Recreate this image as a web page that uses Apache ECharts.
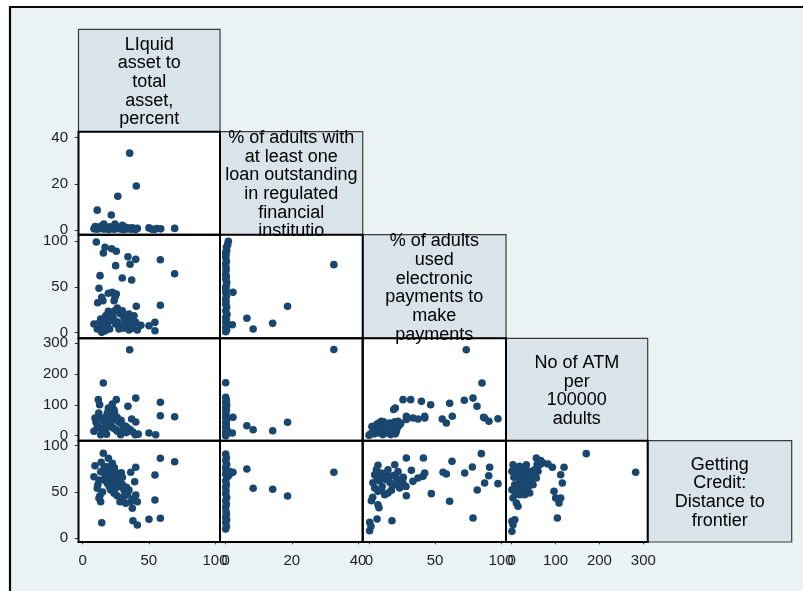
<!DOCTYPE html>
<html>
<head>
<meta charset="utf-8">
<script src="https://cdn.jsdelivr.net/npm/echarts@6/dist/echarts.min.js"></script>
<style>
  html, body { margin: 0; padding: 0; background: #ffffff; }
  #chart { width: 803px; height: 591px; }
</style>
</head>
<body>
<div id="chart"></div>
<script>
// Variable names shown on the diagonal of the scatter matrix
const variableLabels = [
  'LIquid\nasset to\ntotal\nasset,\npercent',
  '% of adults with\nat least one\nloan outstanding\nin regulated\nfinancial\ninstitutio',
  '% of adults\nused\nelectronic\npayments to\nmake\npayments',
  'No of ATM\nper\n100000\nadults',
  'Getting\nCredit:\nDistance to\nfrontier'
];

// Axis range and tick step of each variable
const axisRanges = [[0, 100], [0, 40], [0, 100], [0, 300], [0, 100]];
const tickSteps = [50, 20, 50, 100, 50];

// Panel data: [x, y] pairs
const loanByLiquid = [
  [35.5, 33.3], [40.5, 19.1], [26.5, 14.6], [11, 8.6], [21.6, 6.5],
  [16, 2.6], [24.4, 2.6], [30, 2], [8.5, 0.5], [9.5, 1.5], [11, 0.3], [12, 1.2], [13.6, 0.6],
  [14.5, 1.8], [16.1, 0.4], [17, 1.2], [18.6, 0.8], [19.5, 0.2], [20.5, 1.4], [21.2, 0.5],
  [22.5, 1.0], [23.7, 0.3], [25, 1.6], [26.2, 0.6], [27.5, 1.1], [28.7, 0.4], [30.2, 0.9],
  [31.2, 0.2], [32.5, 1.2], [33.7, 0.5], [35, 0.8], [36.3, 0.3], [37.5, 1.0], [38.8, 0.5],
  [40, 0.2], [41.3, 0.7], [50.1, 0.9], [52, 0.4], [53.9, 0.2], [56, 0.6], [59, 0.5], [69.5, 0.7]
];
const elecByLiquid = [
  [10.3, 98.9], [16.9, 93.1], [15.6, 86.9], [21.9, 91.6], [25.4, 88.8], [34.2, 82.9], [40.1, 80],
  [35.8, 74.6], [24.9, 73.1], [58.7, 79.6], [69.5, 64.3], [13.1, 62.2], [29.9, 59.7], [37, 57.5],
  [12.3, 48.4], [19.4, 43], [22.4, 44], [25.4, 42.2], [14.4, 38.6], [11.3, 32.7], [15.3, 34.9],
  [23.7, 34.9], [24.4, 38.6], [40.5, 28.8], [58.7, 29.9], [26.2, 26.9], [21.2, 22.2], [17.4, 18.5],
  [8.5, 9.5], [11, 4], [14.4, 0.4], [16.1, 13.1], [18.6, 9.5], [20.4, 4], [22.4, 13.1], [24.9, 9.5],
  [27.4, 4], [28.7, 20.4], [31.2, 14.9], [33.7, 11.3], [36.3, 7.6], [38.8, 18.5], [40.1, 11.3],
  [41.3, 2.9], [50.1, 7.6], [54.6, 11.3], [54.6, 2.2], [19.4, 23.3], [24.2, 24], [13.6, 14.9],
  [35, 20.4], [37.5, 15], [15, 6], [19, 15], [23, 18], [26, 12], [29, 8], [31, 5], [33, 18],
  [35, 3], [38, 5], [30, 24], [17, 2], [12, 10], [44, 8]
];
const atmByLiquid = [
  [35.5, 279], [15.6, 171], [11.8, 117], [12.8, 100.6], [25.4, 117], [22.4, 103], [19.4, 90],
  [40.1, 122], [34.2, 95.4], [58.7, 108.4], [58.7, 65], [69.5, 61.7], [37, 54.2], [40.1, 44.5],
  [50.1, 8.8], [55.2, 3.2], [9.3, 57.5], [8.5, 14.3], [11, 35.7], [13.6, 3.2], [16.1, 46.8],
  [17.4, 25], [19.9, 57.5], [21.2, 35.7], [22.4, 68.2], [24.9, 52], [26.2, 14.3], [28.7, 3.2],
  [28.7, 41.3], [32.5, 30.5], [36, 19.5], [39.8, 3.2], [12.1, 73.7], [14.9, 25], [18.6, 73.7],
  [23.7, 84.4], [10, 45], [20.5, 45], [26, 60], [30, 35], [14, 55], [17, 60], [20, 30], [23, 25],
  [25, 20], [27, 45], [30, 15], [33, 10], [15, 15], [18, 5], [11, 25], [24, 75], [21, 80],
  [29, 50], [34, 25], [38, 12], [42, 5]
];
const creditByLiquid = [
  [15.6, 91.8], [19.4, 86.4], [9.3, 78.4], [58.7, 86.4], [69.5, 82.7], [54.6, 68.4], [40.1, 76.7],
  [36.3, 71.3], [8.5, 66.5], [13.6, 71.9], [17.4, 77.3], [21.2, 71.9], [22.4, 66.5], [26.2, 70.2],
  [29.2, 70.8], [12.3, 63], [11, 54], [12.3, 43.2], [13.6, 39.5], [16.1, 63], [18.6, 59.4],
  [21.2, 52.2], [23.7, 48.6], [24.9, 57.6], [27.4, 55.7], [31.2, 52.2], [35, 52.2], [39.3, 61.1],
  [28.2, 39.5], [32.5, 37.8], [36.3, 39.5], [40.1, 46.8], [37.5, 32.4], [41.3, 39.5], [54.6, 41.4],
  [14.4, 16.8], [38, 19], [41.3, 14.4], [50.1, 20.5], [58.7, 21.6], [20, 66.5], [22.4, 81],
  [27.4, 66.5], [11.5, 58], [17, 68], [19, 74], [14, 82], [16, 75], [18, 70], [20, 62], [23, 62],
  [25, 66], [28, 62], [30, 58], [33, 55], [24, 52], [26, 46], [20, 56], [15, 50], [13, 46],
  [31, 45], [34, 47], [38, 42], [21, 78], [24, 76], [30, 66]
];
const elecByLoan = [
  [0.8, 99.7], [0.6, 96], [0.2, 93], [0.3, 90], [0, 87.6], [0.1, 85], [0, 82.2], [0.2, 78],
  [0, 74.9], [0.1, 68], [0, 64], [0.2, 61], [0, 58.6], [0.3, 55], [0, 49.5], [0.1, 47], [0, 44],
  [0.2, 40], [0, 36.8], [0.1, 34], [0, 31.3], [0.3, 28], [0, 24], [0.4, 20], [0, 16.8], [0.2, 14],
  [0, 11.3], [0.5, 9], [0, 5.9], [0.3, 3], [0, 1.1], [2.2, 44], [2, 8.7], [6.4, 15.7], [8.3, 4],
  [14.2, 10.2], [18.7, 28.8], [32.7, 74.2], [0.1, 71], [0.2, 52]
];
const atmByLoan = [
  [0, 172], [0, 124.6], [0.2, 116], [0, 108], [0.3, 100], [0, 92], [0.2, 84], [0, 76], [0.1, 68],
  [0, 60], [0.3, 52], [0, 43.5], [0.2, 35], [0, 27], [0.4, 19], [0, 11], [0.2, 5], [0, 0],
  [2.2, 60], [2, 9], [6.4, 32.5], [8.3, 19.5], [14.2, 16], [18.7, 43.5], [32.7, 280],
  [0.1, 88], [0.2, 56], [0.1, 31], [0.3, 15]
];
const creditByLoan = [
  [32.7, 71.3], [6.4, 74.8], [8.3, 54], [14.2, 52.9], [18.7, 45.7], [2.2, 71.3], [0, 91], [0.2, 87],
  [0, 83.8], [0.3, 80], [0, 76.7], [0.1, 73], [0, 69.4], [0.4, 66], [0, 62.2], [0.2, 58], [0, 55],
  [0.1, 51], [0, 47.8], [0.3, 44], [0, 40.6], [0.2, 37], [0, 33.5], [0, 22.7], [0.3, 20], [0, 17.3],
  [0.2, 13], [0, 10], [1, 68], [1.2, 72], [0.1, 29], [0.2, 26]
];
const atmByElec = [
  [73.7, 279], [85.6, 171], [25.8, 117], [31.6, 117], [39.7, 111.6], [46.7, 100.6], [61.1, 105],
  [72.2, 115], [78.8, 122], [81.8, 95.4], [19.9, 90], [18.7, 85], [28.3, 63], [33.3, 57.5],
  [42.2, 57.5], [55.5, 54.2], [58.6, 41.2], [63.1, 63], [87.6, 57.5], [90.9, 46.8], [97.7, 55.2],
  [86.8, 60], [0, 1.3], [3, 14.3], [5.5, 35.7], [8.1, 8.8], [9.3, 46.8], [11.9, 25], [14.4, 8.8],
  [15.7, 41.2], [18.2, 25], [20.7, 14.3], [22, 46.8], [2.2, 30], [6.5, 20], [10.5, 3.5], [12.5, 40],
  [16.5, 3.5], [19.5, 45], [23.2, 35.7], [28.3, 52.9], [37.1, 54], [42.2, 63], [17, 30], [13, 15],
  [1, 5], [4, 22], [6, 10], [7, 28], [9, 18], [10, 32], [12, 12], [13, 38], [15, 20], [16, 28],
  [17, 12], [19, 36], [21, 22], [22, 30], [24, 40], [7, 40], [11, 45], [4, 6], [20, 6], [14, 30]
];
const creditByElec = [
  [85.1, 91.4], [28.3, 86.7], [41.2, 86.7], [62.9, 83.1], [78.3, 77], [91.4, 76.7], [6.8, 78.8],
  [19.5, 79.5], [32.1, 73.4], [56.1, 71.3], [58.6, 69.5], [42.2, 70.5], [72.5, 70.5], [90.7, 67.6],
  [87.6, 59.7], [97.7, 59], [82, 52.2], [61.1, 40], [47.2, 48.2], [28.3, 46], [78.8, 21.9],
  [17.4, 19], [6.1, 20.8], [0.5, 17.3], [0.5, 8.2], [1.8, 40.6], [2.8, 44.3], [6.8, 36.3], [7.6, 33],
  [4.3, 68.7], [5.6, 74.1], [9.3, 70.5], [10.6, 65.1], [13.1, 63.3], [14.4, 74.1], [15.7, 66.9],
  [18.2, 57.9], [20.7, 57.9], [20.7, 65.1], [23.2, 54.3], [24.5, 61.5], [25.8, 59.7], [4.3, 54.3],
  [6.8, 50.7], [9.3, 52.5], [11.9, 47.1], [14.4, 48.9], [33.3, 61.5], [37.1, 65.1], [40.9, 66.9],
  [1.5, 13], [3, 60], [8, 62], [12, 70], [16, 60], [19, 68], [22, 72], [26, 66], [28, 56], [10, 56],
  [17, 52], [6, 66]
];
const creditByAtm = [
  [170, 91.4], [282.6, 71.3], [56.1, 86.7], [82.7, 80.2], [92.7, 76.7], [119.3, 76.7], [111.7, 68.7],
  [115.5, 59.7], [104.1, 21.9], [96.5, 50.7], [100.3, 43.5], [111.7, 43.5], [107.9, 38.1],
  [0.5, 72.3], [3, 79.5], [10.6, 75.9], [18.2, 77.7], [25.8, 74.1], [33.4, 79.5], [41, 72.3],
  [48.6, 68.7], [56.1, 65.1], [44.8, 61.5], [33.4, 65.1], [18.2, 61.5], [6.8, 57.9], [29.6, 56.1],
  [41, 48.9], [48.6, 57.9], [60, 72.3], [63.8, 79.5], [71.4, 81.3], [0.5, 52.5], [3, 43.5],
  [10.6, 38.1], [14.4, 34.5], [18.2, 47.1], [29.6, 47.1], [0.5, 18.3], [3, 14.7], [0.5, 7.5],
  [7, 20], [10.6, 67], [22, 68.7], [37, 70.5], [52, 74], [5, 66], [14, 70], [22, 58], [26, 62],
  [30, 72], [36, 62], [38, 56], [44, 66], [52, 70], [58, 80], [66, 84], [20, 72], [8, 48], [12, 52],
  [26, 52]
];

// Lower-triangle panels: row variable on y, column variable on x
const panels = [
  { row: 1, col: 0, data: loanByLiquid },
  { row: 2, col: 0, data: elecByLiquid },
  { row: 2, col: 1, data: elecByLoan },
  { row: 3, col: 0, data: atmByLiquid },
  { row: 3, col: 1, data: atmByLoan },
  { row: 3, col: 2, data: atmByElec },
  { row: 4, col: 0, data: creditByLiquid },
  { row: 4, col: 1, data: creditByLoan },
  { row: 4, col: 2, data: creditByElec },
  { row: 4, col: 3, data: creditByAtm }
];

// ---- layout ----
const FONT = '"Liberation Sans", Arial, Helvetica, sans-serif';
const MARKER = '#1A476F';
const colEdges = [78.5, 220, 362.7, 506, 647.7, 791.7];
const rowEdges = [29.3, 131.7, 234.7, 338.3, 440.7, 542];
// plotting region inside each cell (value range -> pixels)
const plotLeft = [82.7, 225.7, 369, 511.7];
const plotWidth = [132.3, 132.3, 132, 131.6];
const plotTop = [null, 137.7, 241, 343.3, 445.7];
const plotHeight = [null, 92.3, 91.7, 92.4, 92.6];

const grids = [], xAxes = [], yAxes = [], series = [];
panels.forEach((p, i) => {
  grids.push({ left: plotLeft[p.col], top: plotTop[p.row], width: plotWidth[p.col], height: plotHeight[p.row] });
  const showX = p.row === 4;
  const showY = p.col === 0;
  xAxes.push({
    type: 'value', gridIndex: i,
    min: axisRanges[p.col][0], max: axisRanges[p.col][1], interval: tickSteps[p.col],
    show: showX, position: 'bottom',
    offset: rowEdges[5] - (plotTop[4] + plotHeight[4]),
    axisLine: { show: false },
    splitLine: { show: false },
    axisTick: { show: true, length: 6, lineStyle: { color: '#333', width: 1 } },
    axisLabel: { show: true, fontFamily: FONT, fontSize: 15, color: '#1e1e1e', margin: 11,
                 showMinLabel: true, showMaxLabel: true }
  });
  yAxes.push({
    type: 'value', gridIndex: i,
    min: axisRanges[p.row][0], max: axisRanges[p.row][1], interval: tickSteps[p.row],
    show: showY, position: 'left',
    offset: plotLeft[0] - colEdges[0],
    axisLine: { show: false },
    splitLine: { show: false },
    axisTick: { show: true, length: 8, lineStyle: { color: '#333', width: 1 } },
    axisLabel: { show: true, fontFamily: FONT, fontSize: 15, color: '#1e1e1e', margin: 10.5,
                 showMinLabel: true, showMaxLabel: true }
  });
  series.push({
    type: 'scatter', xAxisIndex: i, yAxisIndex: i,
    data: p.data, symbol: 'circle', symbolSize: 7.6, clip: false, silent: true,
    itemStyle: { color: MARKER, opacity: 1 }
  });
});

// ---- frames, label boxes and diagonal labels ----
const graphics = [];
graphics.push({
  type: 'rect', z: 0,
  shape: { x: 10, y: 7, width: 820, height: 620 },
  style: { fill: '#EAF2F3', stroke: '#0a0a0a', lineWidth: 2.2 }
});
variableLabels.forEach((txt, k) => {
  const x0 = colEdges[k], x1 = colEdges[k + 1], y0 = rowEdges[k], y1 = rowEdges[k + 1];
  graphics.push({
    type: 'rect', z: 1,
    shape: { x: x0, y: y0, width: x1 - x0, height: y1 - y0 },
    style: { fill: '#D8E4EA', stroke: '#3a3a3a', lineWidth: 1.2 }
  });
  graphics.push({
    type: 'text', z: 4,
    x: (x0 + x1) / 2, y: (y0 + y1) / 2 + 1.5,
    style: {
      text: txt, fill: '#000', font: '18px ' + FONT,
      align: 'center', verticalAlign: 'middle', lineHeight: 18.7
    }
  });
});
panels.forEach(p => {
  const x0 = colEdges[p.col], x1 = colEdges[p.col + 1], y0 = rowEdges[p.row], y1 = rowEdges[p.row + 1];
  graphics.push({
    type: 'rect', z: 1,
    shape: { x: x0, y: y0, width: x1 - x0, height: y1 - y0 },
    style: { fill: '#ffffff', stroke: null }
  });
  graphics.push({
    type: 'rect', z: 10,
    shape: { x: x0, y: y0, width: x1 - x0, height: y1 - y0 },
    style: { fill: null, stroke: '#000', lineWidth: 2 }
  });
});

const chart = echarts.init(document.getElementById('chart'), null, { renderer: 'canvas' });
chart.setOption({
  backgroundColor: '#ffffff',
  animation: false,
  graphic: { elements: graphics },
  grid: grids,
  xAxis: xAxes,
  yAxis: yAxes,
  series: series
});
</script>
</body>
</html>
